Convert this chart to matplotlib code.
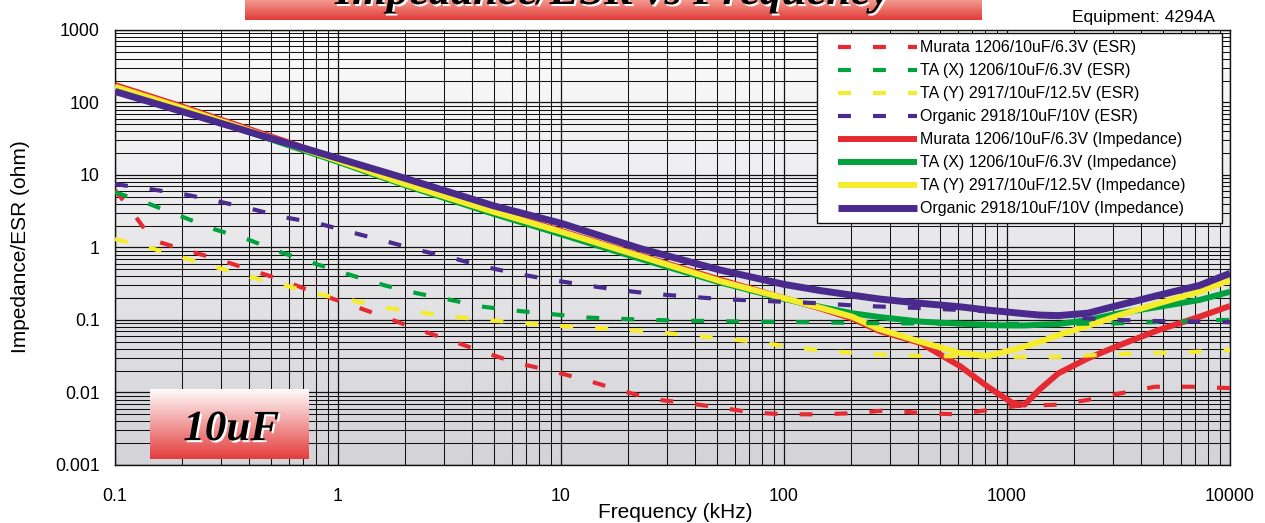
import numpy as np
import matplotlib
matplotlib.use("Agg")
import matplotlib.pyplot as plt
import matplotlib.transforms as mtransforms
from matplotlib.colors import LinearSegmentedColormap
from matplotlib import patheffects as pe
from matplotlib.legend_handler import HandlerLine2D
from matplotlib.ticker import FixedLocator, FixedFormatter, LogLocator, NullFormatter

plt.rcParams['font.family'] = ['Liberation Sans', 'DejaVu Sans']

# ---------------- data ----------------
x_ticks = [0.1, 1, 10, 100, 1000, 10000]
x_tick_labels = ["0.1", "1", "10", "100", "1000", "10000"]
y_ticks = [0.001, 0.01, 0.1, 1, 10, 100, 1000]
y_tick_labels = ["0.001", "0.01", "0.1", "1", "10", "100", "1000"]

series_names = ["Murata 1206/10uF/6.3V", "TA (X) 1206/10uF/6.3V",
                "TA (Y) 2917/10uF/12.5V", "Organic 2918/10uF/10V"]

# Impedance (kHz, ohm)
imp_freq = [0.1, 0.2, 0.5, 1, 2, 5, 10, 22.6, 51.6, 100, 145, 202, 267, 410,
            617, 820, 1055, 1200, 1400, 1700, 2300, 3200, 4800, 7300, 10000]
imp_murata = [174, 88, 34, 16.5, 7.9, 3.2, 1.7, 0.78, 0.36, 0.20, 0.145, 0.105,
              0.071, 0.048, 0.023, 0.012, 0.0072, 0.0068, 0.011, 0.0184, 0.0295,
              0.045, 0.073, 0.111, 0.156]
imp_ta_x = [158, 80, 31, 15.2, 7.2, 2.9, 1.52, 0.70, 0.33, 0.195, 0.152, 0.124,
            0.11, 0.095, 0.089, 0.085, 0.084, 0.084, 0.086, 0.088, 0.10, 0.124,
            0.152, 0.189, 0.245]
imp_ta_y = [165, 84, 32.5, 15.8, 7.5, 3.1, 1.65, 0.76, 0.345, 0.20, 0.148, 0.111,
            0.075, 0.050, 0.035, 0.032, 0.0385, 0.043, 0.050, 0.062, 0.083,
            0.117, 0.17, 0.245, 0.356]
imp_organic = [142, 75, 32, 17, 9.0, 3.75, 2.16, 0.97, 0.49, 0.31, 0.255, 0.22,
               0.195, 0.17, 0.152, 0.137, 0.127, 0.122, 0.117, 0.115, 0.124,
               0.161, 0.22, 0.30, 0.44]

# ESR (kHz, ohm)
esr_murata_f = [0.1, 0.117, 0.13, 0.143, 0.156, 0.2, 0.28, 0.4, 0.56, 0.79, 1.11,
                1.57, 2.2, 3.1, 4.4, 6.2, 9.1, 13.1, 18.2, 26, 37, 51.6, 72, 100,
                145, 210, 290, 410, 600, 1100, 1700, 2300, 3200, 4600, 6700, 10000]
esr_murata = [6.2, 3.36, 2.16, 1.44, 1.2, 0.95, 0.71, 0.50, 0.356, 0.238, 0.166,
              0.114, 0.077, 0.054, 0.037, 0.026, 0.0198, 0.0147, 0.0108, 0.0081,
              0.0071, 0.0062, 0.0053, 0.005, 0.005, 0.0052, 0.0057, 0.0052, 0.005,
              0.0065, 0.0068, 0.0079, 0.0097, 0.012, 0.012, 0.0115]
esr_ta_x_f = [0.1, 0.142, 0.2, 0.28, 0.4, 0.56, 0.8, 1.14, 1.62, 2.27, 3.2, 4.5,
              6.5, 9.2, 13.1, 25.6, 51.6, 100, 290, 1600, 3200, 9000, 10000]
esr_ta_x = [5.8, 4.0, 2.66, 1.78, 1.27, 0.85, 0.59, 0.417, 0.30, 0.233, 0.189,
            0.152, 0.133, 0.12, 0.108, 0.10, 0.096, 0.094, 0.09, 0.088, 0.09,
            0.10, 0.10]
esr_ta_y_f = [0.1, 0.146, 0.206, 0.287, 0.41, 0.58, 0.82, 1.17, 1.62, 2.3, 3.3,
              4.5, 6.5, 9.1, 13.3, 25.6, 37, 51.6, 75, 100, 145, 210, 290, 410,
              620, 1200, 1700, 3200, 4500, 7000, 10000]
esr_ta_y = [1.31, 0.975, 0.71, 0.53, 0.39, 0.30, 0.226, 0.185, 0.148, 0.128,
            0.111, 0.10, 0.092, 0.084, 0.079, 0.069, 0.062, 0.056, 0.050, 0.044,
            0.038, 0.035, 0.033, 0.032, 0.0315, 0.031, 0.031, 0.034, 0.035,
            0.0364, 0.0385]
esr_organic_f = [0.1, 0.148, 0.206, 0.293, 0.416, 0.58, 0.81, 1.15, 1.62, 2.3,
                 3.3, 4.5, 6.5, 9.1, 13.1, 18, 25.6, 37.3, 51.6, 75.2, 145, 210,
                 290, 410, 850, 1600, 3200, 4500, 9000, 10000]
esr_organic = [7.5, 6.3, 5.4, 4.3, 3.36, 2.6, 2.16, 1.62, 1.23, 0.92, 0.71,
               0.545, 0.43, 0.356, 0.30, 0.26, 0.23, 0.21, 0.195, 0.185, 0.17,
               0.158, 0.152, 0.146, 0.131, 0.111, 0.10, 0.097, 0.094, 0.093]

colors = ["#e52b31", "#00a23d", "#f4ec2c", "#4a2b8d"]

# ---------------- layout helpers ----------------
W, H = 1265, 523
fig = plt.figure(figsize=(W / 100, H / 100), dpi=100)


def px_rect(x0, y0, x1, y1):
    return [x0 / W, 1 - y1 / H, (x1 - x0) / W, (y1 - y0) / H]


def gradient_axes(rect, top, bottom, zorder):
    a = fig.add_axes(rect, zorder=zorder)
    cmap = LinearSegmentedColormap.from_list("g", [top, bottom])
    a.imshow(np.linspace(0, 1, 256).reshape(-1, 1), aspect="auto", cmap=cmap,
             extent=[0, 1, 0, 1])
    a.set_axis_off()
    return a


ax_rect = px_rect(115, 30, 1230, 465)
gradient_axes(ax_rect, "#fcfcfc", "#d3d3d8", 0)

ax = fig.add_axes(ax_rect, zorder=1)
ax.patch.set_visible(False)
ax.set_xscale("log")
ax.set_yscale("log")

# impedance (solid)
imp_sets = [imp_murata, imp_ta_x, imp_ta_y, imp_organic]
imp_lw = [4.3, 4.3, 4.3, 5.0]
imp_lines = []
for name, vals, c, lw in zip(series_names, imp_sets, colors, imp_lw):
    ln, = ax.plot(imp_freq, vals, color=c, lw=lw, solid_capstyle="butt",
                  solid_joinstyle="round", zorder=3,
                  label=name + " (Impedance)")
    imp_lines.append(ln)

# ESR (dashed)
esr_sets = [(esr_murata_f, esr_murata), (esr_ta_x_f, esr_ta_x),
            (esr_ta_y_f, esr_ta_y), (esr_organic_f, esr_organic)]
esr_lines = []
for name, (f, v), c in zip(series_names, esr_sets, colors):
    ln, = ax.plot(f, v, color=c, lw=3.0, dashes=(3.1, 5.3), dash_capstyle="butt",
                  zorder=4, label=name + " (ESR)")
    esr_lines.append(ln)

ax.set_xlim(0.1, 10000)
ax.set_ylim(0.001, 1000)

ax.xaxis.set_major_locator(FixedLocator(x_ticks))
ax.xaxis.set_major_formatter(FixedFormatter(x_tick_labels))
ax.yaxis.set_major_locator(FixedLocator(y_ticks))
ax.yaxis.set_major_formatter(FixedFormatter(y_tick_labels))
ax.xaxis.set_minor_locator(LogLocator(base=10, subs=np.arange(2, 10), numticks=100))
ax.yaxis.set_minor_locator(LogLocator(base=10, subs=np.arange(2, 10), numticks=100))
ax.xaxis.set_minor_formatter(NullFormatter())
ax.yaxis.set_minor_formatter(NullFormatter())
ax.grid(True, which="major", color="#111111", lw=0.9, zorder=1)
ax.grid(True, which="minor", color="#111111", lw=0.75, zorder=1)
ax.set_axisbelow(True)
ax.tick_params(which="both", length=0)
ax.tick_params(axis="x", pad=16.5, labelsize=12.8)
ax.tick_params(axis="y", pad=11, labelsize=12.8)
for s in ax.spines.values():
    s.set_color("#111111")
    s.set_linewidth(1.0)

fig.text(675 / W, 1 - 512 / H, "Frequency (kHz)", ha="center", va="center",
         fontsize=15)
fig.text(21 / W, 1 - 247 / H, "Impedance/ESR (ohm)", ha="center", va="center",
         rotation=90, fontsize=15)
fig.text(1215 / W, 1 - 22 / H, "Equipment: 4294A", ha="right", va="baseline",
         fontsize=12.5)


# legend with handles shifted inward
class ShiftedHandler(HandlerLine2D):
    def __init__(self, shift, **kw):
        super().__init__(**kw)
        self.shift = shift

    def create_artists(self, legend, orig_handle, xdescent, ydescent, width,
                       height, fontsize, trans):
        arts = super().create_artists(legend, orig_handle, xdescent, ydescent,
                                      width - self.shift, height, fontsize, trans)
        t = mtransforms.Affine2D().translate(self.shift, 0) + trans
        for a in arts:
            a.set_transform(t)
        return arts


handles = esr_lines + imp_lines
hm = {h: ShiftedHandler(10.0) for h in handles}
leg = ax.legend(handles=handles, labels=[h.get_label() for h in handles],
                loc="upper left", mode="expand",
                bbox_to_anchor=px_rect(817, 33, 1222, 221),
                bbox_transform=fig.transFigure, borderaxespad=0,
                fontsize=11.5, handlelength=5.8, handletextpad=0.2,
                labelspacing=0.5, borderpad=0.45, fancybox=False,
                framealpha=1, edgecolor="#111111", handler_map=hm)
leg.get_frame().set_linewidth(1.0)
leg.set_zorder(10)

# title banner
gradient_axes(px_rect(245, 0, 982, 20), "#f29a8e", "#e23a38", 2)
fig.text(613 / W, 1 - 4 / H, "Impedance/ESR vs Frequency", ha="center",
         va="baseline", fontsize=32, family="Liberation Serif", weight="bold",
         style="italic", zorder=5,
         path_effects=[pe.withSimplePatchShadow(offset=(1.5, -1.5),
                                                shadow_rgbFace="white",
                                                alpha=1.0)])

# 10uF box
box = gradient_axes(px_rect(150, 389, 309, 459), "#ffffff", "#e43c3c", 5)
box.text(0.51, 0.27, "10uF", transform=box.transAxes, ha="center",
         va="baseline", fontsize=31, family="Liberation Serif", weight="bold",
         style="italic",
         path_effects=[pe.withSimplePatchShadow(offset=(1.5, -1.5),
                                                shadow_rgbFace="white",
                                                alpha=1.0)])

fig.savefig("out.png", dpi=100)
